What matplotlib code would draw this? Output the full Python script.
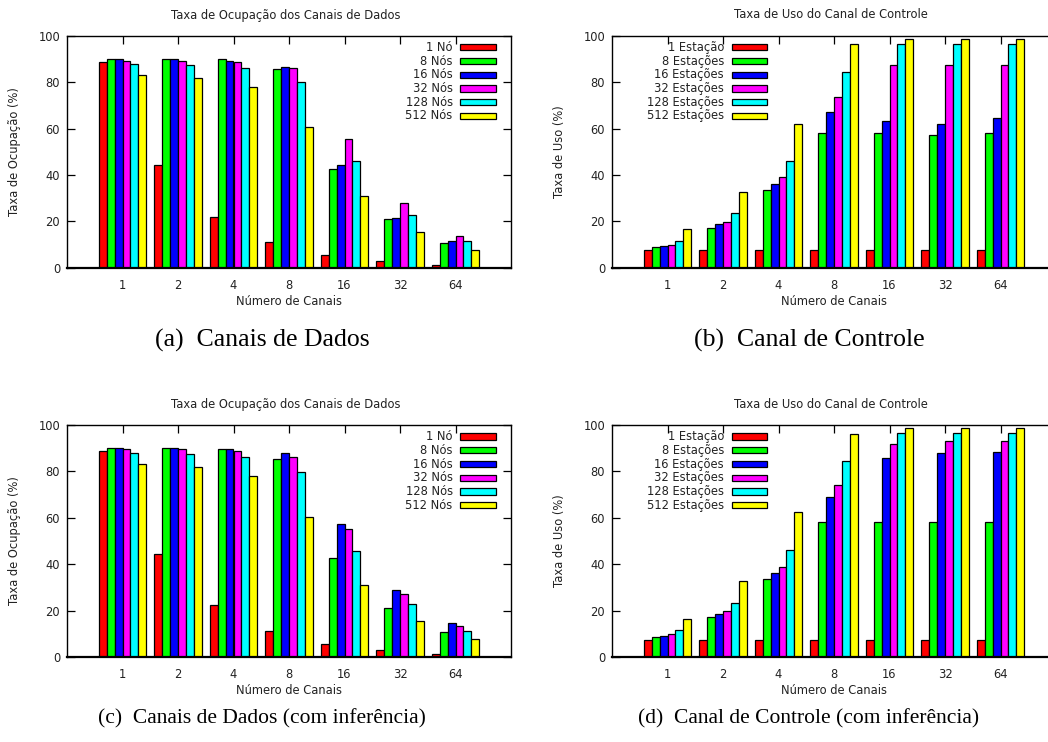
import matplotlib
matplotlib.use("Agg")
import matplotlib.pyplot as plt
from matplotlib.patches import Rectangle
import numpy as np

# ---------------- data ----------------
channels = ["1", "2", "4", "8", "16", "32", "64"]
colors = ["#ff0000", "#00ff00", "#0000ff", "#ff00ff", "#00ffff", "#ffff00"]

nodes_labels = ["1 Nó", "8 Nós", "16 Nós", "32 Nós", "128 Nós", "512 Nós"]
stations_labels = ["1 Estação", "8 Estações", "16 Estações", "32 Estações",
                   "128 Estações", "512 Estações"]

# (a) Canais de Dados  -- one list per series, values per channel count
data_a_1 = [88.6, 44.4, 22.0, 10.9, 5.3, 2.7, 1.3]
data_a_8 = [90.1, 90.1, 89.8, 85.5, 42.7, 21.0, 10.6]
data_a_16 = [89.8, 89.8, 89.3, 86.3, 44.4, 21.5, 11.3]
data_a_32 = [89.3, 89.2, 88.8, 86.2, 55.4, 27.7, 13.8]
data_a_128 = [87.8, 87.5, 86.2, 79.9, 46.1, 22.8, 11.3]
data_a_512 = [83.2, 81.9, 78.0, 60.5, 30.9, 15.4, 7.8]

# (b) Canal de Controle
data_b_1 = [7.5, 7.5, 7.5, 7.5, 7.5, 7.5, 7.5]
data_b_8 = [8.8, 17.2, 33.6, 58.0, 58.0, 57.3, 57.9]
data_b_16 = [9.2, 18.7, 36.2, 67.0, 63.4, 62.1, 64.7]
data_b_32 = [9.9, 19.7, 38.9, 73.7, 87.5, 87.5, 87.2]
data_b_128 = [11.6, 23.4, 46.1, 84.3, 96.3, 96.6, 96.3]
data_b_512 = [16.5, 32.8, 62.1, 96.3, 98.4, 98.4, 98.4]

# (c) Canais de Dados (com inferência)
data_c_1 = [88.6, 44.2, 22.3, 11.1, 5.5, 2.9, 1.4]
data_c_8 = [90.2, 90.2, 89.8, 85.5, 42.8, 21.3, 10.6]
data_c_16 = [89.9, 89.9, 89.5, 87.8, 57.5, 28.7, 14.5]
data_c_32 = [89.5, 89.5, 88.6, 86.0, 55.3, 27.3, 13.5]
data_c_128 = [87.8, 87.3, 86.2, 79.9, 45.8, 22.8, 11.3]
data_c_512 = [83.2, 81.7, 78.0, 60.5, 30.9, 15.4, 7.6]

# (d) Canal de Controle (com inferência)
data_d_1 = [7.5, 7.5, 7.5, 7.5, 7.5, 7.5, 7.5]
data_d_8 = [8.8, 17.4, 33.6, 58.0, 58.0, 58.0, 58.0]
data_d_16 = [9.2, 18.5, 36.4, 68.8, 85.9, 87.8, 88.2]
data_d_32 = [9.9, 19.7, 38.9, 74.0, 91.8, 93.0, 93.0]
data_d_128 = [11.8, 23.4, 46.1, 84.6, 96.4, 96.4, 96.4]
data_d_512 = [16.5, 32.8, 62.4, 96.3, 98.6, 98.6, 98.6]

title_data = "Taxa de Ocupação dos Canais de Dados"
title_ctrl = "Taxa de Uso do Canal de Controle"
ylabel_data = "Taxa de Ocupação (%)"
ylabel_ctrl = "Taxa de Uso (%)"
xlabel = "Número de Canais"
captions = ["(a)  Canais de Dados", "(b)  Canal de Controle",
            "(c)  Canais de Dados (com inferência)",
            "(d)  Canal de Controle (com inferência)"]

# ---------------- figure ----------------
W, H = 1048, 742
fig = plt.figure(figsize=(W / 100, H / 100), dpi=100)
FS = 8.3
plt.rcParams['font.family'] = ['DejaVu Sans']


def px_axes(left, right, top, bottom):
    return fig.add_axes([left / W, 1 - bottom / H, (right - left) / W, (bottom - top) / H])


def panel(ax, series, labels, title, ylabel, legend_side):
    n = len(series)
    x = np.arange(len(channels))
    width = 1.0 / (n + 1)
    for j, vals in enumerate(series):
        ax.bar(x + (j - (n - 1) / 2) * width, vals, width, color=colors[j],
               edgecolor="black", linewidth=0.9, zorder=2)
    ax.set_xlim(-1, 7)
    ax.set_ylim(0, 100)
    ax.set_yticks([0, 20, 40, 60, 80, 100])
    ax.set_xticks(x)
    ax.set_xticklabels(channels, fontsize=FS, color="#222222")
    for lab in ax.get_yticklabels():
        lab.set_fontsize(FS)
        lab.set_color("#222222")
    ax.tick_params(axis="y", direction="in", length=6, width=0.9, right=True, pad=5)
    ax.tick_params(axis="x", direction="in", length=0, pad=8)
    for sp in ax.spines.values():
        sp.set_linewidth(1.0)
    ax.spines["bottom"].set_linewidth(1.6)
    # top tick marks
    tw = ax.twiny()
    tw.set_xlim(-1, 7)
    tw.set_xticks(x)
    tw.set_xticklabels([])
    tw.tick_params(axis="x", direction="in", length=6, width=0.9)
    for sp in tw.spines.values():
        sp.set_visible(False)

    ax.text(0.493, 1 + 20.7 / 232, title, transform=ax.transAxes, ha="center",
            va="center", fontsize=FS, color="#222222")
    ax.text(0.5, -34 / 232, xlabel, transform=ax.transAxes, ha="center",
            va="center", fontsize=FS, color="#222222")
    ax.text(-52 / 444, 0.5, ylabel, transform=ax.transAxes, ha="center",
            va="center", rotation=90, fontsize=FS, color="#222222")

    # legend (gnuplot-like: right-aligned text, sample box on the right)
    if legend_side == "right":
        xt, xb0, xb1 = 0.8687, 0.8851, 0.9662
    else:
        xt, xb0, xb1 = 0.2523, 0.2696, 0.3498
    bh = 6.3 / 232
    for j, lab in enumerate(labels):
        yc = 0.950 - 0.0592 * j
        ax.text(xt, yc, lab, transform=ax.transAxes, ha="right", va="center",
                fontsize=FS, color="#222222", zorder=5)
        ax.add_patch(Rectangle((xb0, yc - bh / 2), xb1 - xb0, bh,
                               transform=ax.transAxes, facecolor=colors[j],
                               edgecolor="black", linewidth=0.9, zorder=5))


ax_a = px_axes(67, 511, 35.7, 267.7)
ax_b = px_axes(612, 1056, 35.7, 267.7)
ax_c = px_axes(67, 511, 425, 657)
ax_d = px_axes(612, 1056, 425, 657)

panel(ax_a, [data_a_1, data_a_8, data_a_16, data_a_32, data_a_128, data_a_512],
      nodes_labels, title_data, ylabel_data, "right")
panel(ax_b, [data_b_1, data_b_8, data_b_16, data_b_32, data_b_128, data_b_512],
      stations_labels, title_ctrl, ylabel_ctrl, "left")
panel(ax_c, [data_c_1, data_c_8, data_c_16, data_c_32, data_c_128, data_c_512],
      nodes_labels, title_data, ylabel_data, "right")
panel(ax_d, [data_d_1, data_d_8, data_d_16, data_d_32, data_d_128, data_d_512],
      stations_labels, title_ctrl, ylabel_ctrl, "left")

cap_pos = [(262, 340), (809, 340), (262, 719), (809, 719)]
cap_size = [18.5, 18.5, 15.5, 15.5]
for (cx, cy), cap, fs in zip(cap_pos, captions, cap_size):
    fig.text(cx / W, 1 - cy / H, cap, ha="center", va="center",
             fontsize=fs, family=["Liberation Serif"], color="black")

fig.savefig("out.png", dpi=100)
